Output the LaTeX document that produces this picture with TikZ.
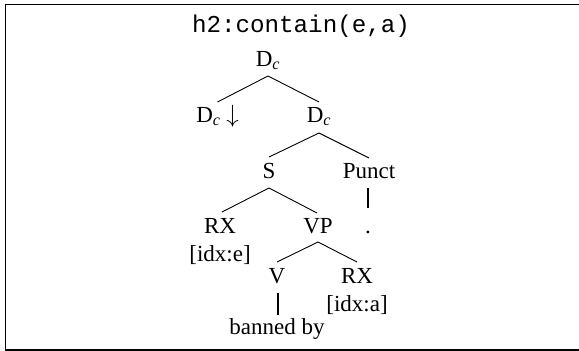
\documentclass[tikz,border=0pt]{standalone}
\usepackage{fontspec}
\setmainfont{Liberation Serif}
\setmonofont{Liberation Mono}
\begin{document}
\begin{tikzpicture}[x=1pt,y=-1pt,
  lbl/.style={anchor=base,inner sep=0pt,font=\fontsize{23}{27}\selectfont},
  ttl/.style={anchor=base,inner sep=0pt,font=\fontsize{24.2}{28}\selectfont\ttfamily},
  edge/.style={line width=0.9pt},
  bar/.style={line width=1.6pt},
  frame/.style={line width=1.3pt}]
\useasboundingbox (0,0) rectangle (579,351);
\clip (0,0) rectangle (579,351);
\draw[frame] (5.7,4.8) rectangle (585,350);
\node[ttl] (title) at (301,32) {h2:contain(e,a)};
% tree nodes
\node[lbl] (dc)  at (268,66)  {D\textsubscript{\itshape c}};
\node[lbl] (dcl) at (217.5,122) {D\textsubscript{\itshape c} $\downarrow$};
\node[lbl] (dcr) at (319,122) {D\textsubscript{\itshape c}};
\node[lbl] (s)   at (269,178) {S};
\node[lbl] (punct) at (369,178) {Punct};
\node[lbl] (rxe) at (220,233) {RX};
\node[lbl] (vp)  at (318,233) {VP};
\node[lbl] (dot) at (368,233) {.};
\node[lbl] (idxe) at (220,261) {[idx:e]};
\node[lbl] (v)   at (277,283) {V};
\node[lbl] (rxa) at (357,283) {RX};
\node[lbl] (idxa) at (357,311) {[idx:a]};
\node[lbl] (ban) at (277,334) {banned by};
% edges
\draw[edge] ([yshift=-10pt]dc.base)  -- ([yshift=20pt]dcl.base);
\draw[edge] ([yshift=-10pt]dc.base)  -- ([yshift=20pt]dcr.base);
\draw[edge] ([yshift=-11pt]dcr.base) -- ([yshift=21pt]s.base);
\draw[edge] ([yshift=-11pt]dcr.base) -- ([yshift=20pt]punct.base);
\draw[edge] ([yshift=-10pt]s.base)   -- ([xshift=2pt,yshift=21pt]rxe.base);
\draw[edge] ([yshift=-10pt]s.base)   -- ([xshift=-1pt,yshift=20pt]vp.base);
\draw[edge] ([yshift=-9pt]vp.base)   -- ([yshift=21pt]v.base);
\draw[edge] ([yshift=-9pt]vp.base)   -- ([yshift=21pt]rxa.base);
\draw[bar] ([xshift=-1pt,yshift=-10pt]punct.base) -- ([yshift=25pt]dot.base);
\draw[bar] ([xshift=1pt,yshift=-10pt]v.base) -- ([xshift=1pt,yshift=19pt]ban.base);
\end{tikzpicture}
\end{document}
